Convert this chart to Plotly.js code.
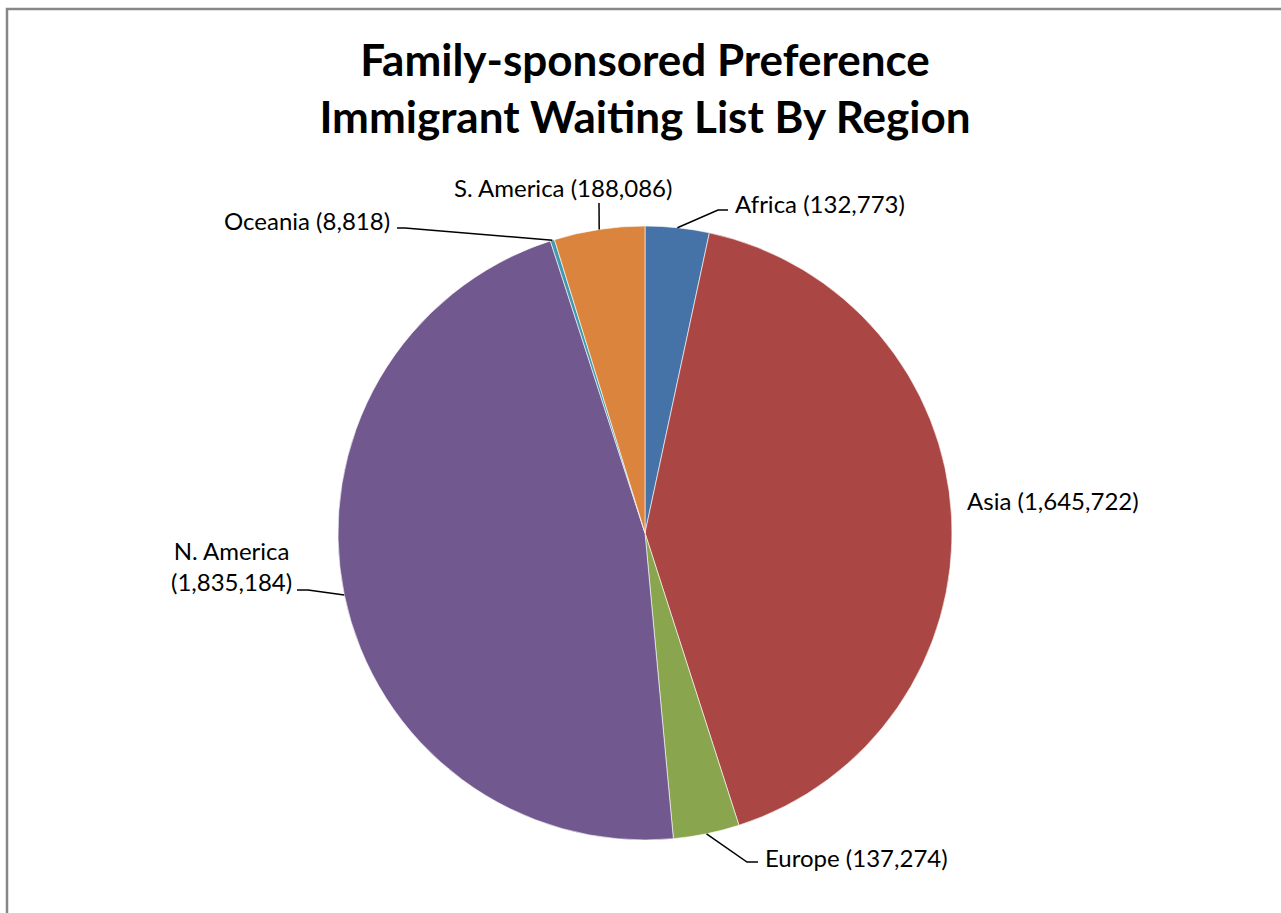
<!DOCTYPE html>
<html>
<head>
<meta charset="utf-8">
<script src="https://cdn.plot.ly/plotly-3.0.1.min.js"></script>
<style>html,body{margin:0;padding:0;background:#fff;}#chart{width:1281px;height:913px;}</style>
</head>
<body>
<div id="chart"></div>
<script>
// ---- data ----
const regions = ["Africa", "Asia", "Europe", "N. America", "Oceania", "S. America"];
const waiting = [132773, 1645722, 137274, 1835184, 8818, 188086];
const sliceColors = ["#4572A7", "#AA4643", "#89A54E", "#71588F", "#4198AF", "#DB843D"];
const labelText = ["Africa (132,773)", "Asia (1,645,722)", "Europe (137,274)",
                   "N. America<br>(1,835,184)", "Oceania (8,818)", "S. America (188,086)"];

// ---- layout constants (pixels) ----
const W = 1281, H = 913;
const cx = 645, cy = 533, R = 307;
const FONT = "Lato, 'Open Sans', sans-serif";

// label placement: [x, y, xanchor, elbow points...]
const labelPos = [
  {x: 733, y: 203, xa: "left", path: [[718, 210], [728, 210]]},
  {x: 965, y: 500, xa: "left", path: null},
  {x: 763, y: 857, xa: "left", path: [[747, 862], [758, 862]]},
  {x: 231, y: 566, xa: "center", path: [[308, 590], [297, 590]]},
  {x: 392, y: 220, xa: "right", path: [[405, 228], [397, 228]]},
  {x: 563, y: 187, xa: "center", path: [[599, 203]]}
];

const total = waiting.reduce((a, b) => a + b, 0);
let cum = 0;
const shapes = [];
const annotations = [];
waiting.forEach((v, i) => {
  const mid = (cum + v / 2) / total * 2 * Math.PI;
  cum += v;
  const sx = cx + R * Math.sin(mid), sy = cy - R * Math.cos(mid);
  const lp = labelPos[i];
  if (lp.path) {
    let d = "M" + sx.toFixed(1) + "," + sy.toFixed(1);
    lp.path.forEach(p => { d += " L" + p[0] + "," + p[1]; });
    shapes.push({type: "path", xref: "x", yref: "y", path: d, line: {color: "#000", width: 1.5}});
  }
  annotations.push({
    xref: "x", yref: "y", x: lp.x, y: lp.y, xanchor: lp.xa, yanchor: "middle",
    text: labelText[i], showarrow: false, align: "center",
    font: {family: FONT, size: 24, color: "#000"}
  });
});

// chart border
shapes.push({type: "rect", xref: "x", yref: "y", x0: 7, y0: 9, x1: W + 20, y1: H + 20,
  line: {color: "#878787", width: 2.5}, fillcolor: "rgba(0,0,0,0)"});

const trace = {
  type: "pie",
  labels: regions,
  values: waiting,
  sort: false,
  direction: "clockwise",
  rotation: 0,
  textinfo: "none",
  hoverinfo: "label+value",
  marker: {colors: sliceColors, line: {color: "rgba(255,255,255,0.6)", width: 1}},
  domain: {x: [(cx - R) / W, (cx + R) / W], y: [1 - (cy + R) / H, 1 - (cy - R) / H]},
  showlegend: false
};

const layout = {
  width: W, height: H,
  margin: {l: 0, r: 0, t: 0, b: 0},
  paper_bgcolor: "#fff", plot_bgcolor: "rgba(0,0,0,0)",
  xaxis: {range: [0, W], visible: false, fixedrange: true},
  yaxis: {range: [H, 0], visible: false, fixedrange: true},
  title: {
    text: "<b>Family-sponsored Preference<br>Immigrant Waiting List By Region</b>",
    x: cx / W, xanchor: "center", y: 1 - 76 / H, yanchor: "middle",
    font: {family: FONT, size: 44, color: "#000"}
  },
  shapes: shapes,
  annotations: annotations,
  showlegend: false
};

Plotly.newPlot("chart", [trace], layout, {staticPlot: true});
</script>
</body>
</html>
